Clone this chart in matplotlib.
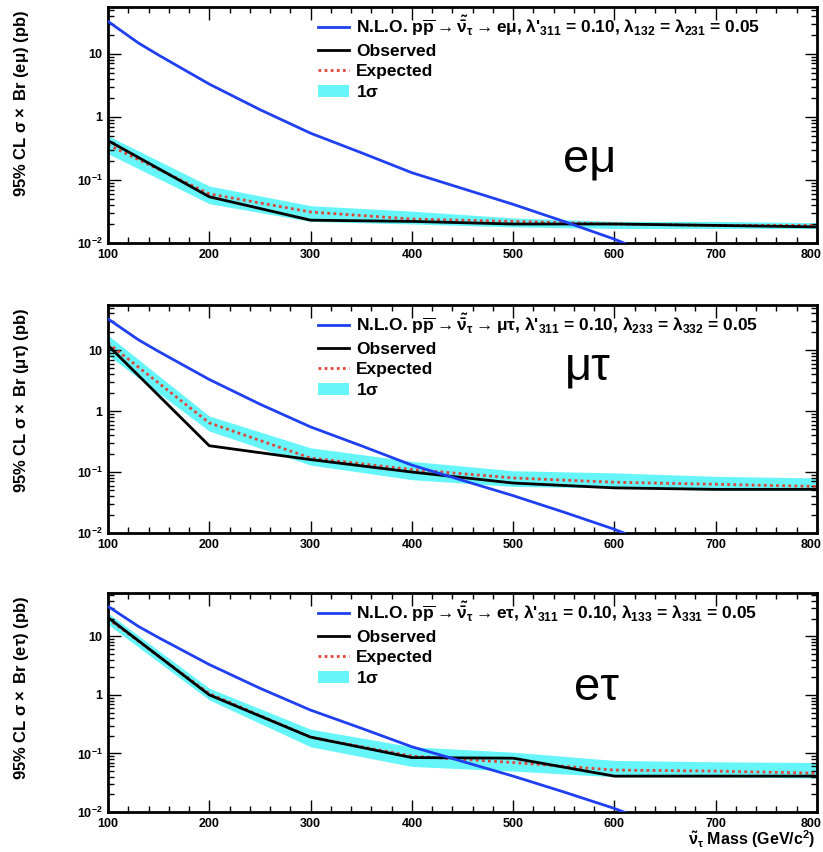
import numpy as np
import matplotlib.pyplot as plt
from matplotlib.lines import Line2D
from matplotlib.patches import Patch
from matplotlib.transforms import ScaledTranslation
from matplotlib.ticker import MultipleLocator, LogLocator, FixedLocator, NullFormatter

plt.rcParams['font.family'] = ['Liberation Sans', 'DejaVu Sans']
plt.rcParams['font.weight'] = 'bold'
plt.rcParams['axes.labelweight'] = 'bold'
plt.rcParams['mathtext.fontset'] = 'custom'
plt.rcParams['mathtext.rm'] = 'Liberation Sans:bold'
plt.rcParams['mathtext.bf'] = 'Liberation Sans:bold'
plt.rcParams['mathtext.it'] = 'Liberation Sans:bold'
plt.rcParams['mathtext.default'] = 'rm'

# sneutrino mass points of the limits (GeV/c^2)
mass = [100, 200, 300, 400, 500, 600, 700, 800]

# NLO cross section x BR, same curve in every channel (pb)
nlo_mass = [100, 130, 150, 200, 250, 300, 350, 400, 450, 500, 550, 600, 620]
nlo_xsec = [32.5, 14.8, 9.5, 3.3, 1.3, 0.55, 0.27, 0.13, 0.073, 0.041, 0.022, 0.0115, 0.0085]

# e-mu channel
emu_obs = [0.42, 0.054, 0.023, 0.022, 0.020, 0.020, 0.019, 0.018]
emu_exp = [0.36, 0.060, 0.031, 0.024, 0.022, 0.020, 0.019, 0.019]
emu_lo = [0.26, 0.042, 0.022, 0.020, 0.018, 0.017, 0.017, 0.017]
emu_hi = [0.50, 0.080, 0.039, 0.032, 0.025, 0.022, 0.022, 0.021]

# mu-tau channel
mutau_obs = [12.0, 0.27, 0.16, 0.10, 0.066, 0.055, 0.052, 0.052]
mutau_exp = [13.0, 0.64, 0.17, 0.11, 0.080, 0.068, 0.063, 0.058]
mutau_lo = [8.3, 0.47, 0.13, 0.075, 0.058, 0.055, 0.050, 0.050]
mutau_hi = [17.6, 0.83, 0.25, 0.15, 0.105, 0.097, 0.085, 0.080]

# e-tau channel
etau_obs = [21.0, 1.0, 0.19, 0.085, 0.083, 0.041, 0.041, 0.041]
etau_exp = [20.0, 1.05, 0.19, 0.090, 0.070, 0.052, 0.050, 0.046]
etau_lo = [16.0, 0.82, 0.13, 0.060, 0.050, 0.040, 0.040, 0.038]
etau_hi = [25.0, 1.30, 0.26, 0.13, 0.105, 0.076, 0.072, 0.070]

channels = [
    ('e\u03bc', r'e$\mu$', r'e$\mu$', r'$\lambda_{132}$ = $\lambda_{231}$',
     emu_obs, emu_exp, emu_lo, emu_hi),
    ('\u03bc\u03c4', r'$\mu$$\tau$', r'$\mu\tau$', r'$\lambda_{233}$ = $\lambda_{332}$',
     mutau_obs, mutau_exp, mutau_lo, mutau_hi),
    ('e\u03c4', r'e$\tau$', r'e$\tau$', r'$\lambda_{133}$ = $\lambda_{331}$',
     etau_obs, etau_exp, etau_lo, etau_hi),
]

# panel boxes in figure pixels: top, bottom
W, H = 823, 852
boxes = [(7, 243), (305, 533), (593, 812)]
channel_pos = [(590, 160), (588, 368), (597, 688)]

fig = plt.figure(figsize=(W / 100, H / 100), dpi=100)

blue = '#1f3ff0'
cyan = '#66f6fa'
red = '#e0453a'

for i, (big, ylab, proc, lam, obs, exp, lo, hi) in enumerate(channels):
    top, bot = boxes[i]
    ax = fig.add_axes([108 / W, 1 - bot / H, (817 - 108) / W, (bot - top) / H])

    ax.fill_between(mass, lo, hi, color=cyan, lw=0, zorder=1)
    ax.plot(mass, exp, color=red, ls=(0, (1, 1.2)), lw=2, zorder=2)
    ax.plot(mass, obs, color='black', lw=2, zorder=3)
    ax.plot(nlo_mass, nlo_xsec, color=blue, lw=2, zorder=4)

    ax.set_yscale('log')
    ax.set_xlim(100, 800)
    ax.set_ylim(0.01, 55)

    ax.xaxis.set_major_locator(FixedLocator(mass))
    ax.xaxis.set_minor_locator(MultipleLocator(20))
    ax.yaxis.set_major_locator(FixedLocator([0.01, 0.1, 1, 10]))
    ax.yaxis.set_minor_locator(LogLocator(base=10, subs=np.arange(2, 10)))
    ax.yaxis.set_minor_formatter(NullFormatter())
    ax.set_yticklabels([r'10$^{-2}$', r'10$^{-1}$', '1', '10'])

    ax.tick_params(which='both', direction='in', top=True, right=True,
                   labelsize=9, width=1)
    ax.tick_params(which='major', length=9, pad=4)
    ax.tick_params(which='minor', length=4.5)
    for s in ax.spines.values():
        s.set_linewidth(2)
    # last mass label sits on the figure edge, pull it in a little
    last = ax.xaxis.get_major_ticks()[-1].label1
    last.set_transform(last.get_transform()
                       + ScaledTranslation(-6 / 100, 0, fig.dpi_scale_trans))

    ax.set_ylabel(r'95% CL $\sigma\times$ Br (' + ylab + ') (pb)', fontsize=12,
                  ha='right')
    ax.yaxis.set_label_coords(-0.109, 0.987)

    nlo_label = (r'N.L.O. p$\overline{\rm p}\rightarrow\tilde{\bar{\nu}}_\tau\rightarrow$'
                 + proc + r", $\lambda$'$_{311}$ = 0.10, " + lam + ' = 0.05')
    handles = [Line2D([], [], color=blue, lw=2),
               Line2D([], [], color='black', lw=2),
               Line2D([], [], color=red, ls=(0, (1, 1.2)), lw=2),
               Patch(facecolor=cyan, edgecolor='none')]
    labels = [nlo_label, 'Observed', 'Expected', r'1$\sigma$']
    ax.legend(handles, labels, loc='upper left',
              bbox_to_anchor=((311 - 108) / 709, 1.0), frameon=False,
              fontsize=12.5, handlelength=1.8, handletextpad=0.4,
              labelspacing=0.3, borderaxespad=0.2, borderpad=0.2)

    ax.text(channel_pos[i][0], H - channel_pos[i][1], big, transform=None,
            fontsize=34, fontweight='normal', ha='center', va='center')

# mass axis title under the bottom panel
fig.text(815 / W, 7 / H, r'$\tilde{\nu}_\tau$ Mass (GeV/c$^2$)', fontsize=11.5,
         fontweight='bold', ha='right', va='baseline')

fig.savefig('out.png', dpi=100)
